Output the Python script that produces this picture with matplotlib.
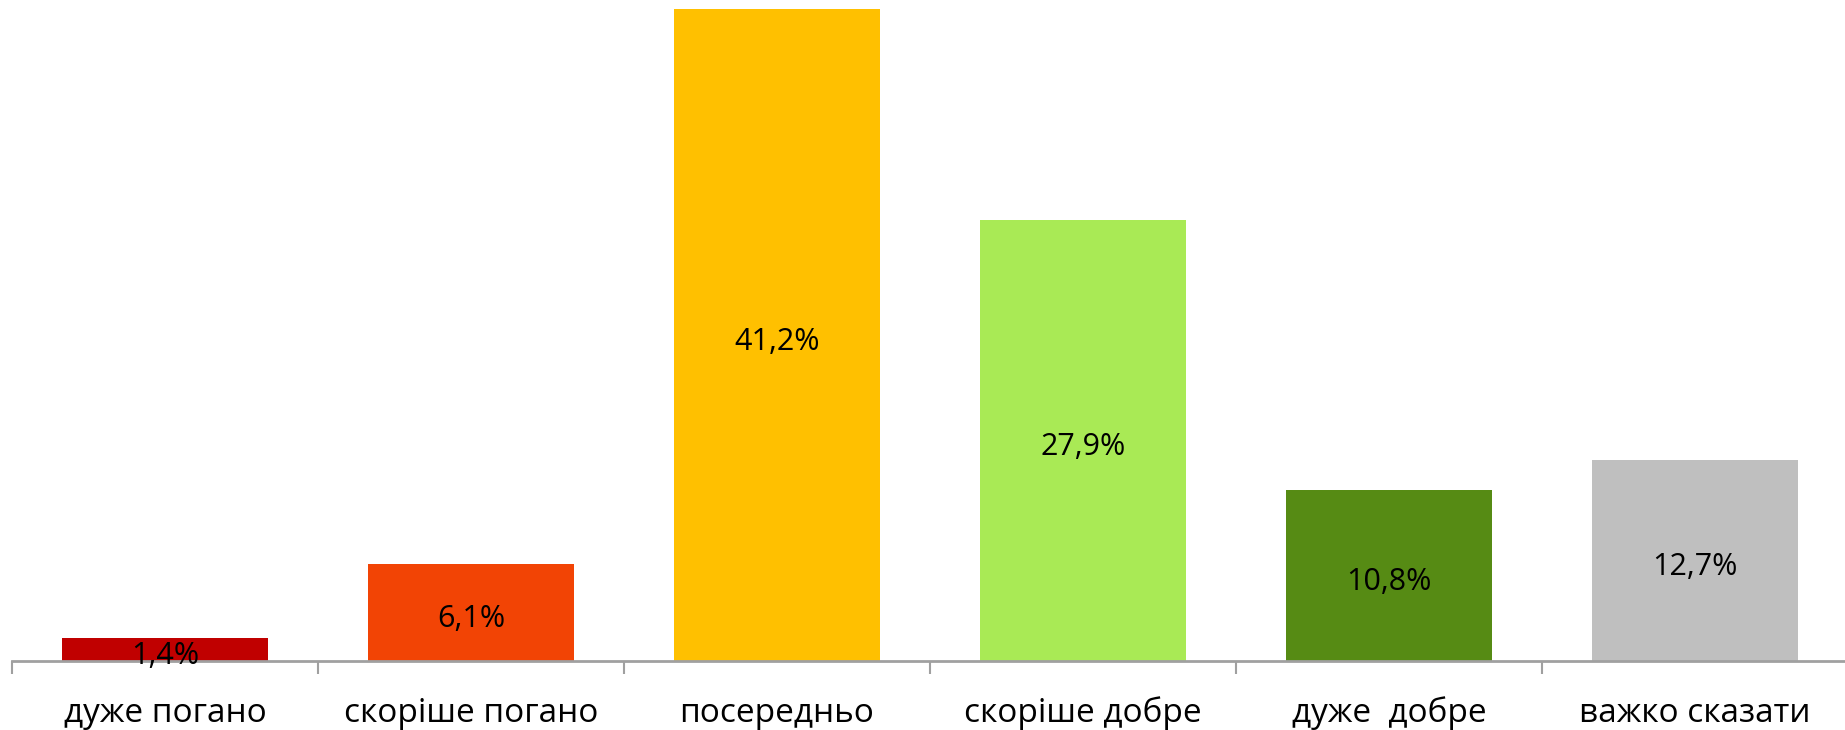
import matplotlib.pyplot as plt
import numpy as np

categories = ["дуже погано", "скоріше погано", "посередньо", "скоріше добре", "дуже  добре", "важко сказати"]
values = [1.4, 6.1, 41.2, 27.9, 10.8, 12.7]
labels = ["1,4%", "6,1%", "41,2%", "27,9%", "10,8%", "12,7%"]
colors = ["#C00000", "#F24405", "#FFC000", "#A9EA55", "#568B14", "#BFBFBF"]

plt.rcParams['font.family'] = ['Open Sans', 'DejaVu Sans']

fig = plt.figure(figsize=(18.45, 7.30), dpi=100)
ax = fig.add_axes([12 / 1845, 69.5 / 730, 1836 / 1845, 660.5 / 730])

x = np.arange(len(categories))
bars = ax.bar(x, values, width=0.67, color=colors)

# підписи в центрі стовпчиків, трохи нижче
for b, lab in zip(bars, labels):
    ax.annotate(lab, (b.get_x() + b.get_width() / 2, b.get_height() / 2),
                xytext=(0, -5), textcoords='offset points',
                ha='center', va='center', fontsize=22, color='black')

ax.set_xlim(-0.5, len(categories) - 0.5)
ax.set_ylim(0, 41.8)

ax.set_xticks(x)
ax.set_xticklabels(categories, fontsize=24)
ax.tick_params(axis='x', which='major', length=0, pad=26)
ax.set_xticks(np.arange(-0.5, len(categories)), minor=True)
ax.tick_params(axis='x', which='minor', length=9, width=1.5, color='#A0A0A0')

ax.set_yticks([])
for s in ['top', 'right', 'left']:
    ax.spines[s].set_visible(False)
ax.spines['bottom'].set_color('#A0A0A0')
ax.spines['bottom'].set_linewidth(2)

fig.savefig('out.png', dpi=100)
